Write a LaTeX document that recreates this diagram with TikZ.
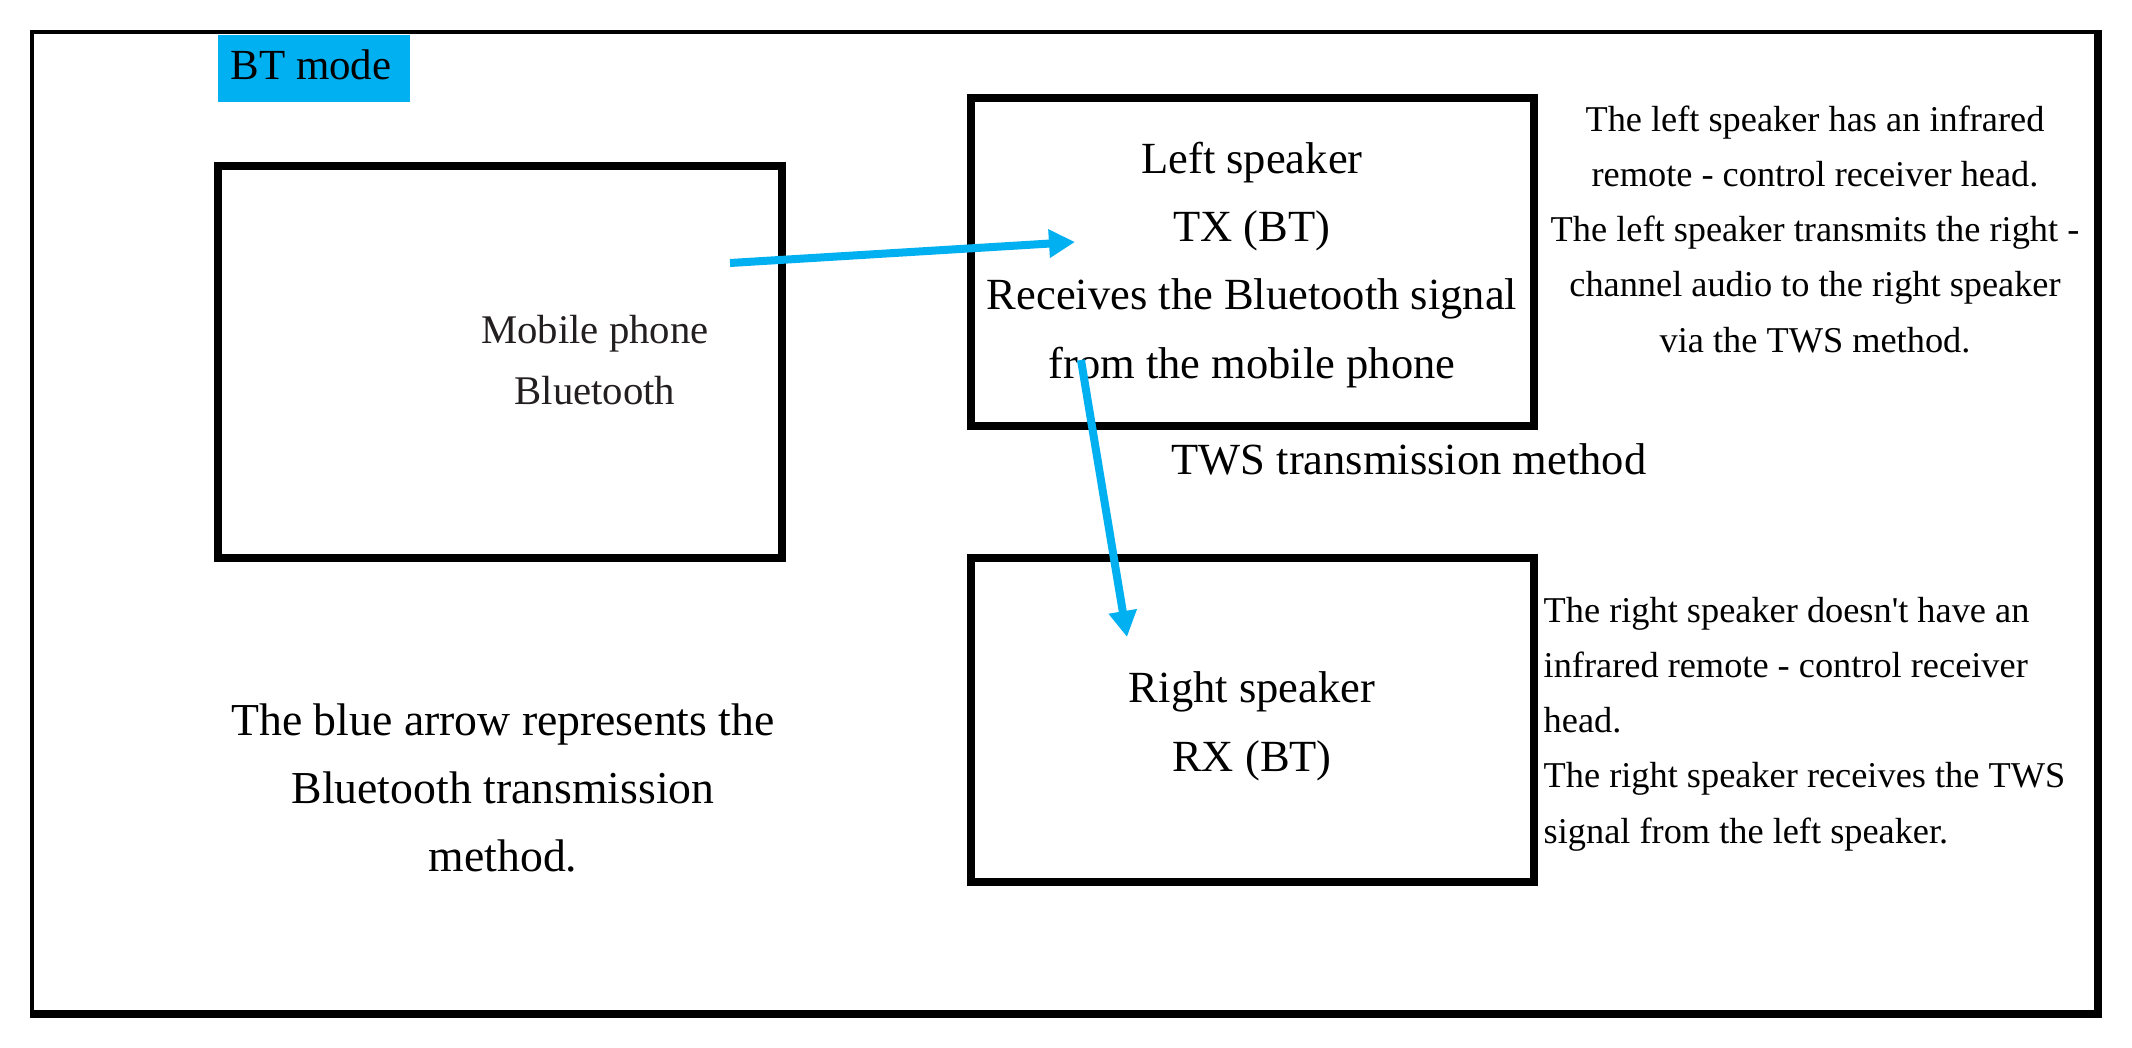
\documentclass[tikz,border=0pt]{standalone}
\usepackage{fontspec}
\setmainfont{Liberation Serif}
\usetikzlibrary{arrows.meta}
\definecolor{btblue}{HTML}{00B0F0}
\definecolor{darktext}{HTML}{231F20}
\begin{document}
\begin{tikzpicture}[x=0.01cm, y=-0.01cm,
  boxst/.style={draw=black, line width=0.08cm, inner sep=0pt, outer sep=0pt},
  bigtext/.style={font=\fontsize{12.66}{19.35}\selectfont, align=center, anchor=base, inner sep=0pt},
  sidetext/.style={font=\fontsize{10.33}{15.65}\selectfont, inner sep=0pt},
  bluearrow/.style={draw=btblue, line width=0.08cm, -{Triangle[length=0.26cm,width=0.27cm]}}]
% canvas
\fill[white] (0,0) rectangle (2132,1048);
\useasboundingbox (0,0) rectangle (2132,1048);
% outer frame (thin left/top, thick right/bottom)
\fill[black] (30,30) rectangle (2102,1018);
\fill[white] (34,34) rectangle (2094,1010);
% BT mode label
\node[fill=btblue, minimum width=1.92cm, minimum height=0.67cm, inner sep=0pt] (btbox) at (314,68.5) {};
\node[font=\fontsize{12.2}{14}\selectfont, anchor=base, inner sep=0pt] (bttext) at (311,79) {BT mode};
% boxes
\node[boxst, minimum width=5.64cm, minimum height=3.92cm] (mobile) at (500,362) {};
\node[boxst, minimum width=5.63cm, minimum height=3.28cm] (left) at (1252.5,262) {};
\node[boxst, minimum width=5.63cm, minimum height=3.24cm] (right) at (1252.5,720) {};
% texts (anchor base = baseline of the last line)
\node[font=\fontsize{11.58}{17.07}\selectfont, text=darktext, align=center, anchor=base, inner sep=0pt] (mobiletext) at (595,404) {Mobile phone\\Bluetooth};
\node[bigtext] (lefttext) at (1252,378) {Left speaker\\TX (BT)\\Receives the Bluetooth signal\\from the mobile phone};
\node[bigtext] (righttext) at (1252,771) {Right speaker\\RX (BT)};
\node[bigtext] (tws) at (1409,474) {TWS transmission method};
\node[sidetext, align=center, anchor=base] (leftnote) at (1815,352) {The left speaker has an infrared\\remote - control receiver head.\\The left speaker transmits the right -\\channel audio to the right speaker\\via the TWS method.};
\node[sidetext, align=left, anchor=base west] (rightnote) at (1543,843) {The right speaker doesn\textquotesingle t have an\\infrared remote - control receiver\\head.\\The right speaker receives the TWS\\signal from the left speaker.};
\node[font=\fontsize{13.0}{19.2}\selectfont, align=center, anchor=base, inner sep=0pt] (legend) at (503,871) {The blue arrow represents the\\Bluetooth transmission\\method.};
% arrows
\coordinate (a1s) at (730,263);
\coordinate (a1e) at (1075,242);
\coordinate (a2s) at (1081,360);
\coordinate (a2e) at (1127,637);
\draw[bluearrow] (a1s) -- (a1e);
\draw[bluearrow] (a2s) -- (a2e);
\end{tikzpicture}
\end{document}
